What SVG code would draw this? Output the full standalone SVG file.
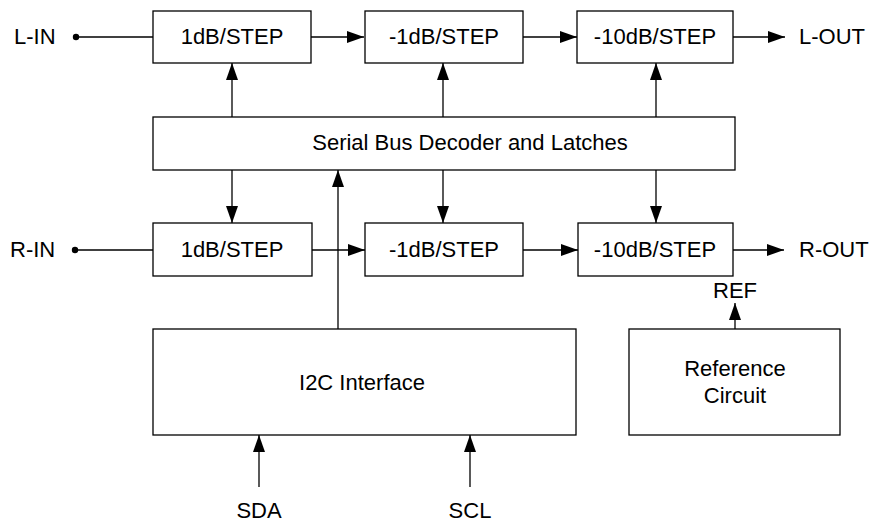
<svg xmlns="http://www.w3.org/2000/svg" width="873" height="522" viewBox="0 0 873 522">
<defs>
<style>
.box{fill:#fff;stroke:#000;stroke-width:1.3}
.ln{fill:none;stroke:#000;stroke-width:1.3}
.arr{marker-end:url(#ah)}
text{font-family:"Liberation Sans",Arial,sans-serif;font-size:22px;fill:#000}
.c{text-anchor:middle}
</style>
<marker id="ah" markerUnits="userSpaceOnUse" markerWidth="18" markerHeight="12" refX="17" refY="6" orient="auto">
<path d="M0,0 L17,6 L0,12 z" fill="#000"/>
</marker>
</defs>
<rect width="873" height="522" fill="#fff"/>
<g id="connectors">
<line class="ln" x1="76" y1="37" x2="153" y2="37"/>
<circle cx="76" cy="37" r="3.2" fill="#000"/>
<line class="ln arr" x1="311" y1="37" x2="364" y2="37"/>
<line class="ln arr" x1="523" y1="37" x2="577" y2="37"/>
<line class="ln arr" x1="733" y1="37" x2="785" y2="37"/>
<line class="ln arr" x1="232" y1="117" x2="232" y2="63"/>
<line class="ln arr" x1="443" y1="117" x2="443" y2="63"/>
<line class="ln arr" x1="656" y1="117" x2="656" y2="63"/>
<line class="ln arr" x1="232" y1="170" x2="232" y2="223"/>
<line class="ln arr" x1="443" y1="170" x2="443" y2="223"/>
<line class="ln arr" x1="656" y1="170" x2="656" y2="223"/>
<line class="ln" x1="75" y1="250" x2="153" y2="250"/>
<circle cx="75" cy="250" r="3.2" fill="#000"/>
<line class="ln arr" x1="312" y1="250" x2="365" y2="250"/>
<line class="ln arr" x1="523" y1="250" x2="578" y2="250"/>
<line class="ln arr" x1="733" y1="250" x2="784" y2="250"/>
<line class="ln arr" x1="338" y1="329" x2="338" y2="170"/>
<line class="ln arr" x1="259" y1="487" x2="259" y2="435"/>
<line class="ln arr" x1="470" y1="487" x2="470" y2="435"/>
<line class="ln arr" x1="735" y1="329" x2="735" y2="303"/>
</g>
<g id="labels">
<text x="14" y="44">L-IN</text>
<text x="799" y="44">L-OUT</text>
<text x="10" y="257">R-IN</text>
<text x="799" y="257">R-OUT</text>
<text class="c" x="259" y="518">SDA</text>
<text class="c" x="470" y="518">SCL</text>
<text class="c" x="735" y="298">REF</text>
</g>
<g id="l1"><rect class="box" x="153" y="11" width="158" height="52"/><text class="c" x="232" y="44">1dB/STEP</text></g>
<g id="l2"><rect class="box" x="365" y="11" width="158" height="52"/><text class="c" x="444" y="44">-1dB/STEP</text></g>
<g id="l3"><rect class="box" x="577" y="11" width="156" height="52"/><text class="c" x="655" y="44">-10dB/STEP</text></g>
<g id="decoder"><rect class="box" x="153" y="117" width="582" height="53"/><text class="c" x="470" y="150">Serial Bus Decoder and Latches</text></g>
<g id="r1"><rect class="box" x="153" y="223" width="159" height="53"/><text class="c" x="232" y="257">1dB/STEP</text></g>
<g id="r2"><rect class="box" x="365" y="223" width="158" height="53"/><text class="c" x="444" y="257">-1dB/STEP</text></g>
<g id="r3"><rect class="box" x="578" y="223" width="155" height="53"/><text class="c" x="655" y="257">-10dB/STEP</text></g>
<g id="i2c"><rect class="box" x="153" y="329" width="423" height="106"/><text class="c" x="362" y="390">I2C Interface</text></g>
<g id="refc"><rect class="box" x="629" y="329" width="211" height="106"/><text class="c" x="735" y="376">Reference</text><text class="c" x="735" y="403">Circuit</text></g>
</svg>
